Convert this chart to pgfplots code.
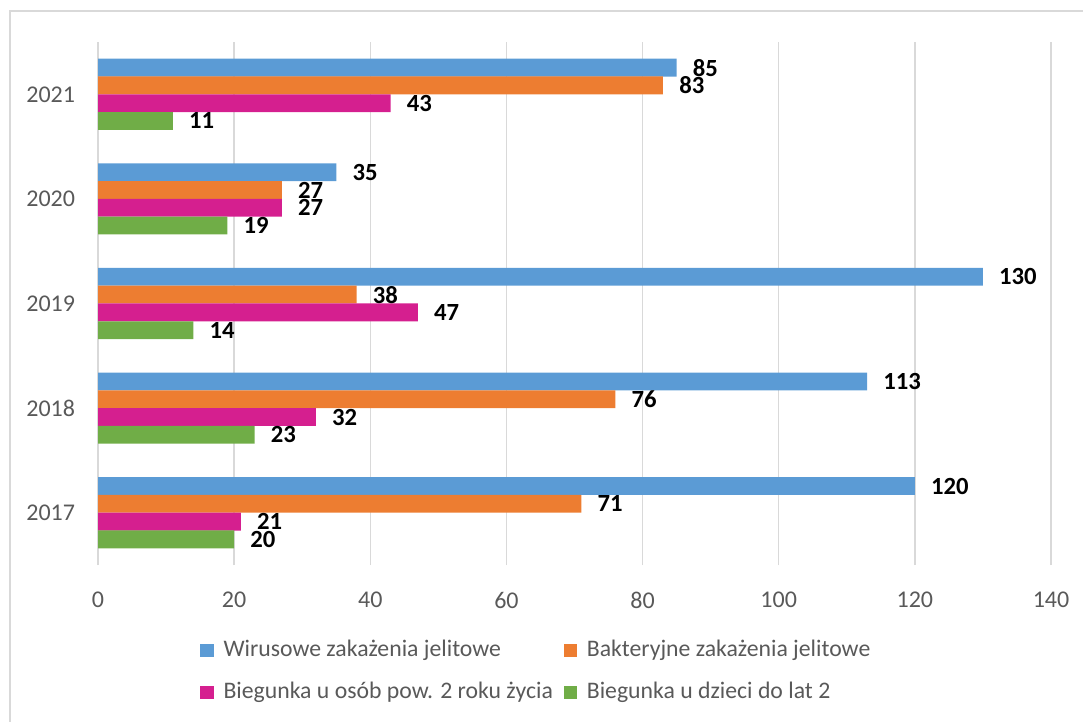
\documentclass[border=0pt]{standalone}
\usepackage{pgfplots}
\pgfplotsset{compat=1.18}
\usepackage{fontspec}
\setmainfont{Carlito}
\definecolor{cblue}{HTML}{5B9BD5}
\definecolor{corange}{HTML}{ED7D31}
\definecolor{cmag}{HTML}{D51F8F}
\definecolor{cgreen}{HTML}{70AD47}
\definecolor{gridc}{HTML}{D9D9D9}
\definecolor{tickc}{HTML}{595959}
\begin{document}
\begin{tikzpicture}
\path[use as bounding box] (0pt,0pt) rectangle (812.25pt,541.5pt);
\draw[color=gridc, line width=1pt] (7.5pt,0pt) -- (7.5pt,533.25pt) -- (812.25pt,533.25pt);
\begin{axis}[
  at={(73.5pt,117.75pt)}, anchor=south west,
  scale only axis, width=714.75pt, height=392.25pt,
  xmin=0, xmax=140, ymin=-0.5, ymax=4.5,
  xbar, bar width=13.35pt,
  xtick={0,20,...,140},
  ytick={0,1,2,3,4},
  yticklabels={2017,2018,2019,2020,2021},
  xmajorgrids, ymajorgrids=false,
  major grid style={color=gridc, line width=1.1pt},
  axis line style={draw=none},
  major tick length=0pt,
  tick label style={font=\fontsize{18}{21}\selectfont, text=tickc},
  yticklabel style={anchor=east, inner sep=0pt, xshift=-17pt},
  xticklabel style={anchor=north, inner sep=0pt, yshift=-20pt},
  /pgf/number format/assume math mode=true,
  clip=false,
  nodes near coords,
  every node near coord/.append style={anchor=west, inner sep=0pt, xshift=12pt, text=black, font=\fontsize{18.5}{21}\selectfont\bfseries},
  legend columns=2,
  legend cell align=left,
  legend image code/.code={\fill[#1] (0pt,-5pt) rectangle (10pt,5pt); \path (17.5pt,0pt);},
  legend style={draw=none, fill=none, at={(axis description cs:0.107,-0.143)}, anchor=north west,
    inner sep=0pt, column sep=0pt, row sep=15.5pt,
    nodes={inner sep=0pt, text height=12pt, text depth=4pt},
    font=\fontsize{17.8}{21}\selectfont, text=tickc},
]
\addplot[fill=cblue, draw=none, bar shift=20pt] coordinates {(120,0) (113,1) (130,2) (35,3) (85,4)};
\addlegendentry{\makebox[255pt][l]{Wirusowe zakażenia jelitowe}}
\addplot[fill=corange, draw=none, bar shift=6.675pt] coordinates {(71,0) (76,1) (38,2) (27,3) (83,4)};
\addlegendentry{Bakteryjne zakażenia jelitowe}
\addplot[fill=cmag, draw=none, bar shift=-6.675pt] coordinates {(21,0) (32,1) (47,2) (27,3) (43,4)};
\addlegendentry{\makebox[255pt][l]{Biegunka u osób pow. 2 roku życia}}
\addplot[fill=cgreen, draw=none, bar shift=-20pt] coordinates {(20,0) (23,1) (14,2) (19,3) (11,4)};
\addlegendentry{Biegunka u dzieci do lat 2}
\end{axis}
\end{tikzpicture}
\end{document}
